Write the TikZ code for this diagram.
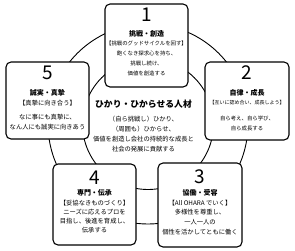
\documentclass[tikz,border=0pt]{standalone}
\usepackage{fontspec}
\setmainfont{Noto Sans CJK JP}
\begin{document}
\begin{tikzpicture}[x=1pt, y=-1pt,
    valuebox/.style={draw, line width=1.1pt, rounded corners=5pt, fill=white, inner sep=0pt},
    num/.style={font=\fontsize{19}{19}\selectfont, inner sep=0pt},
    head/.style={font=\fontsize{7}{7}\selectfont\bfseries, inner sep=0pt},
    small/.style={font=\fontsize{5.4}{5.4}\selectfont, inner sep=0pt},
    plain/.style={font=\fontsize{6.3}{6.3}\selectfont, inner sep=0pt}]
    \useasboundingbox (0,0) rectangle (295,250);

    \draw[line width=0.9pt] (148,124) circle (100);
    \draw[line width=0.9pt] (148,124) circle (65.5);

    \node[head, font=\fontsize{8.8}{8.8}\selectfont\bfseries] (core) at (143.5,104) {ひかり・ひからせる人材};
    \node[plain] (core1) at (143.5,119) {（自ら挑戦し）ひかり、};
    \node[plain] (core2) at (143.5,129) {（周囲も）ひからせ、};
    \node[plain] (core3) at (143.5,139) {価値を創造し会社の持続的な成長と};
    \node[plain] (core4) at (143.5,149) {社会の発展に貢献する};

    % 1
    \node[valuebox, minimum width=83pt, minimum height=83pt] (b1) at (146.5,45.5) {};
    \node[num] (n1) at (146.5,15) {1};
    \node[head] (h1) at (146.5,34) {挑戦・創造};
    \node[small] (m1) at (146.5,43) {【挑戦のグッドサイクルを回す】};
    \node[small] (t1a) at (146.5,53) {飽くなき探求心を持ち、};
    \node[small] (t1b) at (146.5,63) {挑戦し続け、};
    \node[small] (t1c) at (146.5,73) {価値を創造する};

    % 2
    \node[valuebox, minimum width=84pt, minimum height=78pt] (b2) at (247,101) {};
    \node[num] (n2) at (247,73) {2};
    \node[head] (h2) at (247,93) {自律・成長};
    \node[small, font=\fontsize{5}{5}\selectfont] (m2) at (247,103) {【互いに認め合い、成長しよう】};
    \node[small] (t2a) at (247,118) {自ら考え、自ら学び、};
    \node[small] (t2b) at (247,128) {自ら成長する};

    % 3
    \node[valuebox, minimum width=84pt, minimum height=84pt] (b3) at (200,205) {};
    \node[num] (n3) at (200,177) {3};
    \node[head] (h3) at (200,193) {協働・受容};
    \node[plain] (m3) at (200,203) {【All OHARA でいく】};
    \node[plain] (t3a) at (200,212) {多様性を尊重し、};
    \node[plain] (t3b) at (200,222) {一人一人の};
    \node[plain] (t3c) at (200,232) {個性を活かしてともに働く};

    % 4
    \node[valuebox, minimum width=83pt, minimum height=81pt] (b4) at (94.5,204.5) {};
    \node[num] (n4) at (94.5,178) {4};
    \node[head] (h4) at (94.5,193) {専門・伝承};
    \node[plain] (m4) at (94.5,203) {【妥協なきものづくり】};
    \node[plain] (t4a) at (94.5,212) {ニーズに応えるプロを};
    \node[plain] (t4b) at (94.5,221) {目指し、後進を育成し、};
    \node[plain] (t4c) at (94.5,230) {伝承する};

    % 5
    \node[valuebox, minimum width=83pt, minimum height=77pt] (b5) at (47.5,100.5) {};
    \node[num] (n5) at (47.5,73) {5};
    \node[head] (h5) at (47.5,93) {誠実・真摯};
    \node[plain] (m5) at (47.5,103) {【真摯に向き合う】};
    \node[plain] (t5a) at (47.5,117) {なに事にも真摯に、};
    \node[plain] (t5b) at (47.5,127) {なん人にも誠実に向きあう};
\end{tikzpicture}
\end{document}
